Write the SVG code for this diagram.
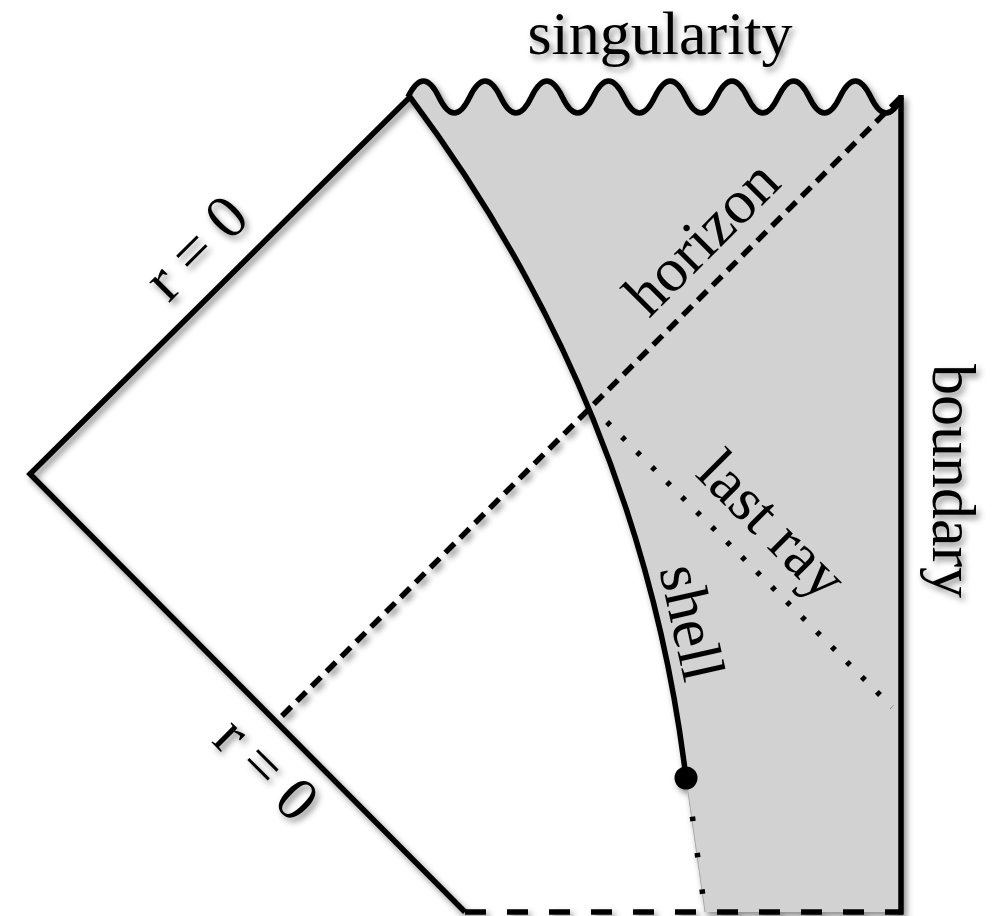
<svg xmlns="http://www.w3.org/2000/svg" width="992" height="916" viewBox="0 0 992 916">
<defs>
<filter id="sh" x="-10%" y="-10%" width="120%" height="120%">
<feDropShadow dx="3" dy="4" stdDeviation="3" flood-color="#000" flood-opacity="0.45"/>
</filter>
</defs>
<style>
.lbl{font-family:"Liberation Serif","Times New Roman",serif;font-size:62px;fill:#000;}
.ln{fill:none;stroke:#000;stroke-width:5.5;}
</style>
<rect width="992" height="916" fill="#fff"/>
<g filter="url(#sh)">
<g id="interior">
<path d="M408,97 q15.425,-32 30.85,0 t30.85,0 t30.85,0 t30.85,0 t30.85,0 t30.85,0 t30.85,0 t30.85,0 t30.85,0 t30.85,0 t30.85,0 t30.85,0 t30.85,0 t30.85,0 t30.85,0 t30.85,0 L901.6,912 L705,912 L686,778 C656,528 560,297 410,97 Z" fill="#d2d2d2" stroke="none"/>
<line x1="686" y1="778" x2="705" y2="912" stroke="#a8a8a8" stroke-width="1"/>
</g>
<g id="edges">
<path id="singularity-edge" class="ln" stroke-width="4.5" d="M408,97 q15.425,-32 30.85,0 t30.85,0 t30.85,0 t30.85,0 t30.85,0 t30.85,0 t30.85,0 t30.85,0 t30.85,0 t30.85,0 t30.85,0 t30.85,0 t30.85,0 t30.85,0 t30.85,0 t30.85,0"/>
<polyline id="r0-edges" class="ln" points="410,97 30,474 465,912"/>
<line id="boundary-edge" class="ln" x1="901" y1="95" x2="901" y2="914.5"/>
<line id="past-edge" class="ln" x1="465" y1="912" x2="903" y2="912" stroke-dasharray="21 21"/>
</g>
<g id="connectors">
<line id="horizon" class="ln" stroke-width="4.5" x1="900" y1="98" x2="279" y2="719" stroke-dasharray="13 8"/>
<line id="last-ray" class="ln" stroke-width="4.5" x1="607" y1="422" x2="892" y2="707" stroke-dasharray="4.5 16.7"/>
<line id="shell-past" class="ln" stroke-width="4.5" x1="692.4" y1="816.6" x2="705" y2="912" stroke-dasharray="4.5 32.2"/>
<path id="shell" class="ln" stroke-width="9" d="M410,97 C560,297 656,528 686,778"/>
<circle id="shell-start" cx="686" cy="778" r="11.5" fill="#000"/>
</g>
<g id="labels">
<text class="lbl" x="660" y="54" text-anchor="middle" font-size="60">singularity</text>
<text class="lbl" text-anchor="middle" transform="translate(210,262) rotate(-45)">r = 0</text>
<text class="lbl" text-anchor="middle" transform="translate(252,783) rotate(45)">r = 0</text>
<text class="lbl" text-anchor="middle" transform="translate(716,252) rotate(-45)">horizon</text>
<text class="lbl" text-anchor="middle" transform="translate(758,539) rotate(45)">last ray</text>
<text class="lbl" text-anchor="middle" transform="translate(672,627) rotate(77.5)">shell</text>
<text class="lbl" text-anchor="middle" transform="translate(933,481) rotate(90)">boundary</text>
</g>
</g>
</svg>
